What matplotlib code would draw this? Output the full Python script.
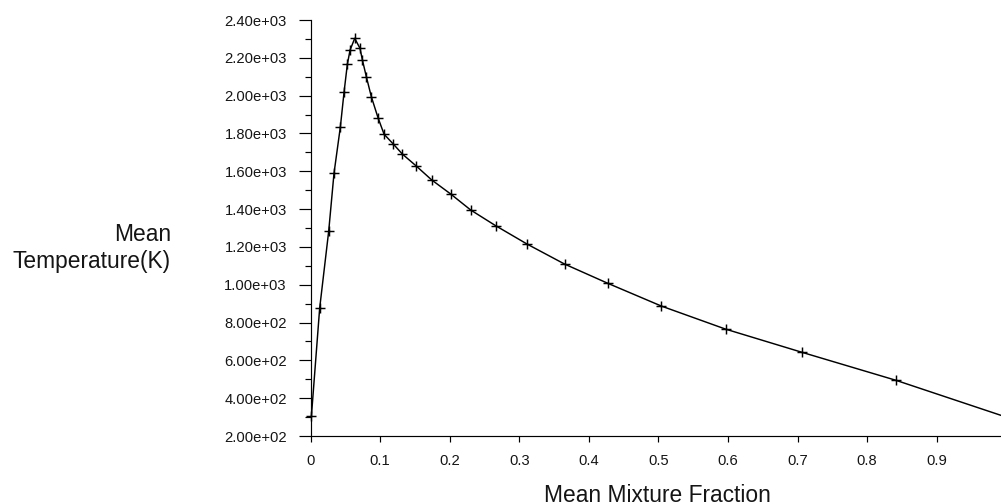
import matplotlib
matplotlib.use("Agg")
import matplotlib.pyplot as plt
from matplotlib.ticker import MultipleLocator, FuncFormatter

mixture_fraction = [0.001, 0.0129, 0.0259, 0.0335, 0.0427, 0.048, 0.0527, 0.0566,
                    0.0633, 0.0709, 0.0743, 0.080, 0.0872, 0.0968, 0.1055, 0.119,
                    0.1318, 0.1514, 0.174, 0.2012, 0.2301, 0.266, 0.3116, 0.3652,
                    0.4275, 0.5043, 0.5967, 0.7069, 0.8411, 1.0]
mean_temperature = [304, 876, 1284, 1589, 1836, 2020, 2166, 2241,
                    2303, 2250, 2189, 2100, 1994, 1883, 1796, 1743,
                    1691, 1629, 1554, 1480, 1395, 1312, 1214, 1109,
                    1007, 887, 765, 642, 495, 300]
x_label = "Mean Mixture Fraction"
y_label = "Mean\nTemperature(K)"

plt.rcParams['font.family'] = ['Liberation Sans', 'DejaVu Sans']
text_color = '#151515'

fig = plt.figure(figsize=(10.01, 5.04), dpi=100)
ax = fig.add_axes([310.7 / 1001, 68 / 504, 695.5 / 1001, 416 / 504])

ax.plot(mixture_fraction, mean_temperature, color='black', lw=1.05,
        marker='+', markersize=6.8, markeredgewidth=1.05, clip_on=False)

ax.set_xlim(0, 1)
ax.set_ylim(200, 2400)

for s in ['top', 'right']:
    ax.spines[s].set_visible(False)
for s in ['left', 'bottom']:
    ax.spines[s].set_linewidth(0.85)
    ax.spines[s].set_color('black')

ax.xaxis.set_major_locator(MultipleLocator(0.1))
ax.xaxis.set_major_formatter(FuncFormatter(lambda v, p: f"{v:g}"))
ax.yaxis.set_major_locator(MultipleLocator(200))
ax.yaxis.set_minor_locator(MultipleLocator(100))
ax.yaxis.set_major_formatter(FuncFormatter(lambda v, p: f"{v:.2e}"))

ax.tick_params(axis='y', which='major', length=8.6, width=0.85, pad=8.6,
               labelsize=10.6, labelcolor=text_color)
ax.tick_params(axis='y', which='minor', length=4.3, width=0.85)
ax.tick_params(axis='x', which='major', length=4.3, width=0.85, pad=8.7,
               labelsize=10.6, labelcolor=text_color)

fig.text(171 / 1001, (504 - 248) / 504, y_label, ha='right', va='center',
         multialignment='right', fontsize=16.4, color=text_color)
fig.text(657.5 / 1001, 2 / 504, x_label, ha='center', va='baseline',
         fontsize=16.4, color=text_color)

fig.savefig("out.png", dpi=100)
